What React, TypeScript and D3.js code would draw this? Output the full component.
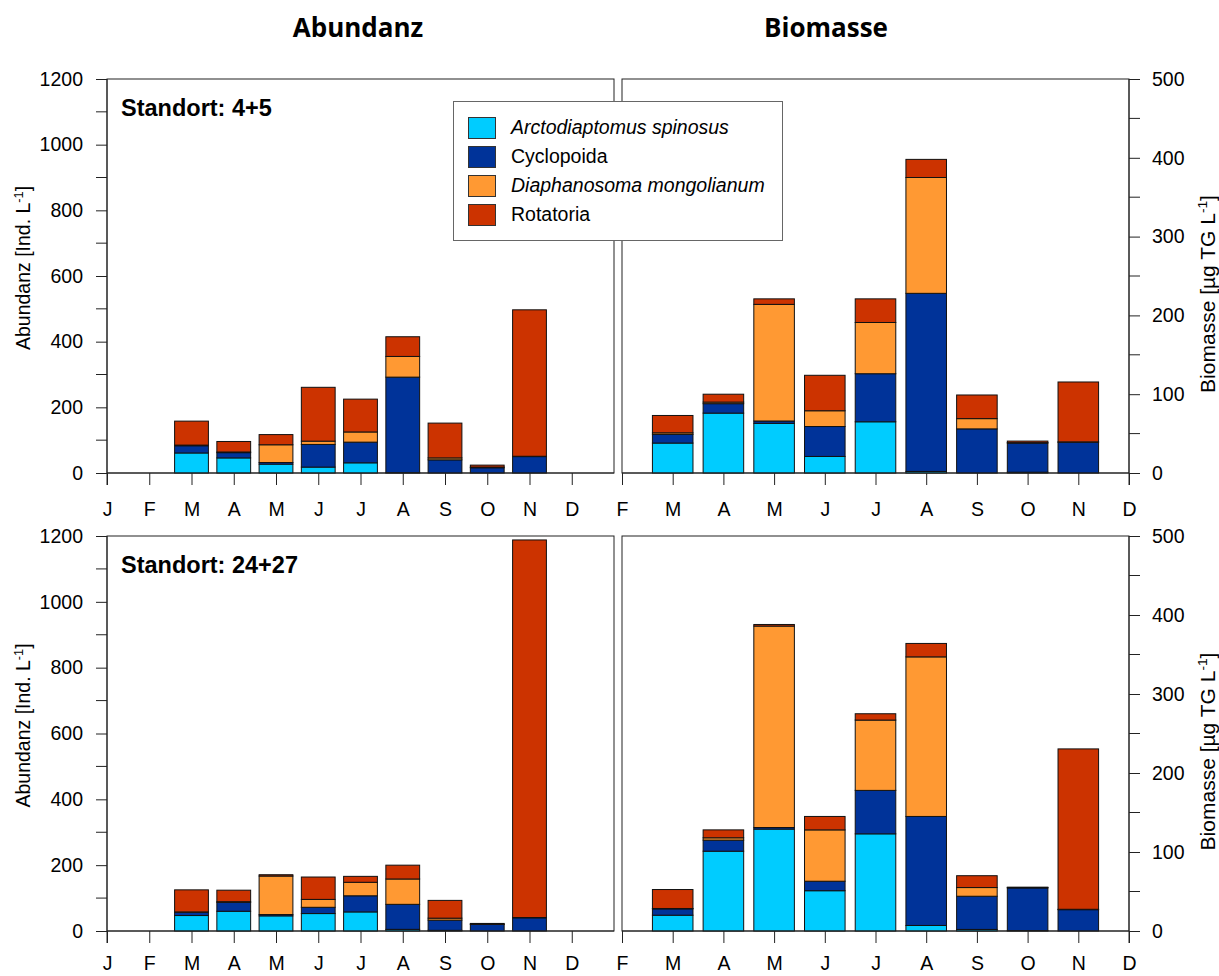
import React, { useEffect, useRef } from "react";
import * as d3 from "d3";

const monthNames = ["Jan", "Feb", "Mär", "Apr", "Mai", "Jun", "Jul", "Aug", "Sep", "Okt", "Nov", "Dez"];
const monthLabels = ["J", "F", "M", "A", "M", "J", "J", "A", "S", "O", "N", "D"];
const sampleMonths = ["Mär", "Apr", "Mai", "Jun", "Jul", "Aug", "Sep", "Okt", "Nov"];

const seriesKeys = ["arcto", "cyclo", "diaph", "rota"];
const seriesNames = ["Arctodiaptomus spinosus", "Cyclopoida", "Diaphanosoma mongolianum", "Rotatoria"];
const seriesItalic = [true, false, true, false];
const seriesColors = ["#00CCFF", "#003399", "#FF9933", "#CC3300"];

// Standort 4+5, Abundanz [Ind. L-1]
const abund45Arcto = [61, 46, 27, 18, 31, 1, 0, 0, 0];
const abund45Cyclo = [22, 16, 5, 69, 63, 291, 40, 16, 50];
const abund45Diaph = [2, 2, 54, 10, 31, 63, 6, 2, 1];
const abund45Rota = [73, 32, 31, 164, 100, 60, 106, 6, 446];

// Standort 4+5, Biomasse [µg TG L-1]
const bio45Arcto = [38, 76, 63, 21, 65, 2, 0, 1, 0];
const bio45Cyclo = [11, 12, 3, 38, 61, 226, 56, 37, 39];
const bio45Diaph = [2, 2, 148, 20, 65, 147, 13, 0.5, 0.5];
const bio45Rota = [22, 10, 7, 45, 30, 23, 30, 2, 76];

// Standort 24+27, Abundanz
const abund2427Arcto = [47, 60, 46, 53, 58, 5, 2, 0, 0];
const abund2427Cyclo = [10, 27, 4, 19, 49, 76, 31, 20, 40];
const abund2427Diaph = [1, 2, 117, 24, 41, 77, 6, 1, 1];
const abund2427Rota = [67, 35, 4, 68, 18, 42, 54, 2, 1147];

// Standort 24+27, Biomasse
const bio2427Arcto = [20, 101, 129, 51, 123, 7, 2, 0.5, 0];
const bio2427Cyclo = [8, 14, 2, 12, 55, 138, 42, 54, 27];
const bio2427Diaph = [0.5, 3, 255, 65, 89, 202, 11, 0.5, 0.5];
const bio2427Rota = [24, 10, 2, 17, 8, 17, 15, 0.5, 203];

const abundTicks = [0, 200, 400, 600, 800, 1000, 1200];
const bioTicks = [0, 100, 200, 300, 400, 500];

const NUM_FONT = "'Liberation Sans', Arial, sans-serif";

function buildRows(a: number[], c: number[], d: number[], r: number[]) {
  return sampleMonths.map((m, i) => ({ month: m, arcto: a[i], cyclo: c[i], diaph: d[i], rota: r[i] }));
}

type Panel = {
  left: number;
  right: number;
  top: number;
  bottom: number;
  firstMonth: number;
  lastMonth: number;
  yMax: number;
  ticks: number[];
  minorStep: number;
  side: "left" | "right";
  rows: any[];
  labelPad: number;
};

function drawPanel(svg: any, p: Panel) {
  const x = d3.scaleLinear().domain([p.firstMonth, p.lastMonth]).range([p.left, p.right]);
  const y = d3.scaleLinear().domain([0, p.yMax]).range([p.bottom, p.top]);
  const bw = (x(1) - x(0)) * 0.8;

  const g = svg.append("g");

  g.append("rect")
    .attr("x", p.left)
    .attr("y", p.top)
    .attr("width", p.right - p.left)
    .attr("height", p.bottom - p.top)
    .attr("fill", "white")
    .attr("stroke", "#222")
    .attr("stroke-width", 1);

  const stacked = d3.stack().keys(seriesKeys)(p.rows);
  g.append("g")
    .selectAll("g")
    .data(stacked)
    .enter()
    .append("g")
    .attr("fill", (d: any, i: number) => seriesColors[i])
    .selectAll("rect")
    .data((d: any) => d)
    .enter()
    .append("rect")
    .attr("x", (d: any) => x(monthNames.indexOf(d.data.month)) - bw / 2)
    .attr("y", (d: any) => y(d[1]))
    .attr("width", bw)
    .attr("height", (d: any) => Math.max(0, y(d[0]) - y(d[1])))
    .attr("stroke", "#111")
    .attr("stroke-width", 1);

  // x axis
  const xAxis = d3
    .axisBottom(x)
    .tickValues(d3.range(p.firstMonth, Math.min(p.lastMonth, 11) + 1))
    .tickSize(12)
    .tickPadding(p.labelPad)
    .tickFormat((d: any) => monthLabels[d]);
  const xg = g.append("g").attr("transform", `translate(0,${p.bottom})`).call(xAxis);
  xg.select(".domain").remove();
  xg.selectAll("line").attr("stroke", "#222");
  xg.selectAll("text").attr("font-family", NUM_FONT).attr("font-size", 19.5).attr("fill", "#000");
  g.append("line")
    .attr("x1", p.left)
    .attr("x2", p.right)
    .attr("y1", p.bottom)
    .attr("y2", p.bottom)
    .attr("stroke", "#222");

  // y axis
  const axisX = p.side === "left" ? p.left : p.right;
  const yAxis = (p.side === "left" ? d3.axisLeft(y) : d3.axisRight(y))
    .tickValues(p.ticks)
    .tickSize(11)
    .tickPadding(p.side === "left" ? 13 : 12)
    .tickFormat((d: any) => String(d));
  const yg = g.append("g").attr("transform", `translate(${axisX},0)`).call(yAxis);
  yg.select(".domain").remove();
  yg.selectAll("line").attr("stroke", "#222");
  yg.selectAll("text").attr("font-family", NUM_FONT).attr("font-size", 19.5).attr("fill", "#000");

  const minor = d3.range(p.minorStep, p.yMax, p.minorStep * 2);
  g.append("g")
    .selectAll("line")
    .data(minor)
    .enter()
    .append("line")
    .attr("x1", axisX)
    .attr("x2", p.side === "left" ? axisX - 11 : axisX + 11)
    .attr("y1", (d: number) => y(d))
    .attr("y2", (d: number) => y(d))
    .attr("stroke", "#222");

  g.append("line")
    .attr("x1", axisX)
    .attr("x2", axisX)
    .attr("y1", p.top)
    .attr("y2", p.bottom + 12)
    .attr("stroke", "#222");
}

function yLabel(svg: any, cx: number, cy: number, size: number, main: string, unit: string) {
  const t = svg
    .append("text")
    .attr("transform", `translate(${cx},${cy}) rotate(-90)`)
    .attr("text-anchor", "middle")
    .attr("font-family", NUM_FONT)
    .attr("font-size", size)
    .attr("fill", "#000");
  t.append("tspan").text(`${main} [${unit} L`);
  t.append("tspan").attr("font-size", size * 0.65).attr("dy", -size * 0.36).text("-1");
  t.append("tspan").attr("dy", size * 0.36).text("]");
}

const App = () => {
  const ref = useRef<SVGSVGElement>(null);

  useEffect(() => {
    document.body.style.margin = "0";
    const svg = d3.select(ref.current);
    svg.selectAll("*").remove();

    const rowsTL = buildRows(abund45Arcto, abund45Cyclo, abund45Diaph, abund45Rota);
    const rowsTR = buildRows(bio45Arcto, bio45Cyclo, bio45Diaph, bio45Rota);
    const rowsBL = buildRows(abund2427Arcto, abund2427Cyclo, abund2427Diaph, abund2427Rota);
    const rowsBR = buildRows(bio2427Arcto, bio2427Cyclo, bio2427Diaph, bio2427Rota);

    const rowsY = [
      { top: 79, bottom: 473, abund: rowsTL, bio: rowsTR, site: "Standort: 4+5", pad: 17 },
      { top: 536, bottom: 931, abund: rowsBL, bio: rowsBR, site: "Standort: 24+27", pad: 13 },
    ];

    rowsY.forEach((r) => {
      drawPanel(svg, {
        left: 107, right: 614, top: r.top, bottom: r.bottom,
        firstMonth: 0, lastMonth: 12, yMax: 1200, ticks: abundTicks, minorStep: 100,
        side: "left", rows: r.abund, labelPad: r.pad,
      });
      drawPanel(svg, {
        left: 622, right: 1129, top: r.top, bottom: r.bottom,
        firstMonth: 1, lastMonth: 11, yMax: 500, ticks: bioTicks, minorStep: 50,
        side: "right", rows: r.bio, labelPad: r.pad,
      });
      svg.append("text")
        .attr("x", 121)
        .attr("y", r.top + 37)
        .attr("font-family", NUM_FONT)
        .attr("font-weight", "bold")
        .attr("font-size", 23.5)
        .text(r.site);
      const mid = (r.top + r.bottom) / 2;
      yLabel(svg, 30, mid - 8, 19.5, "Abundanz", "Ind.");
      yLabel(svg, 1215, mid + 18, 21, "Biomasse", "µg TG");
    });

    // column titles
    [["Abundanz", 358], ["Biomasse", 826]].forEach(([t, cx]) => {
      svg.append("text")
        .attr("x", cx as number)
        .attr("y", 37)
        .attr("text-anchor", "middle")
        .attr("font-family", "'Open Sans', sans-serif")
        .attr("font-weight", "bold")
        .attr("font-size", 26)
        .text(t as string);
    });

    // legend
    const lg = svg.append("g");
    lg.append("rect")
      .attr("x", 453.5)
      .attr("y", 101.5)
      .attr("width", 329)
      .attr("height", 139)
      .attr("fill", "white")
      .attr("stroke", "#666");
    seriesNames.forEach((name, i) => {
      lg.append("rect")
        .attr("x", 468.5)
        .attr("y", 117.5 + i * 29)
        .attr("width", 27)
        .attr("height", 21)
        .attr("fill", seriesColors[i])
        .attr("stroke", "#333");
      lg.append("text")
        .attr("x", 511)
        .attr("y", 134 + i * 29)
        .attr("font-family", NUM_FONT)
        .attr("font-size", 19.5)
        .attr("font-style", seriesItalic[i] ? "italic" : "normal")
        .text(name);
    });
  }, []);

  return <svg ref={ref} width={1219} height={976} style={{ display: "block" }} />;
};

export default App;
